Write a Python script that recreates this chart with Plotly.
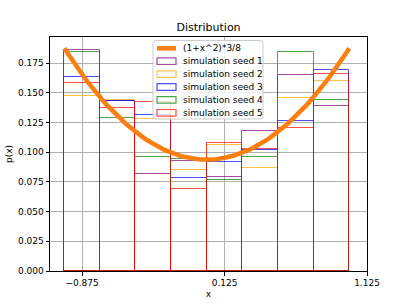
import numpy as np
import plotly.graph_objects as go

# bin edges / centers (8 bins from -1 to 1)
bin_centers = [-0.875, -0.625, -0.375, -0.125, 0.125, 0.375, 0.625, 0.875]
bin_width = 0.25

seed1 = [0.186, 0.143, 0.082, 0.093, 0.079, 0.118, 0.165, 0.139]
seed2 = [0.147, 0.144, 0.128, 0.085, 0.106, 0.087, 0.146, 0.160]
seed3 = [0.163, 0.143, 0.131, 0.078, 0.092, 0.102, 0.126, 0.169]
seed4 = [0.184, 0.129, 0.096, 0.094, 0.077, 0.096, 0.184, 0.144]
seed5 = [0.158, 0.137, 0.142, 0.069, 0.108, 0.103, 0.120, 0.166]

series_names = ["simulation seed 1", "simulation seed 2", "simulation seed 3",
                "simulation seed 4", "simulation seed 5"]
series_vals = [seed1, seed2, seed3, seed4, seed5]
series_colors = ["rgba(128,0,128,0.7)", "rgba(255,165,0,0.7)", "rgba(0,0,255,0.7)",
                 "rgba(0,128,0,0.7)", "rgba(255,0,0,0.7)"]

curve_name = "(1+x^2)*3/8"
curve_color = "#ff7f0e"
# theoretical curve (1+x^2)*3/8 scaled by bin width
curve_x = np.linspace(-1, 1, 101)
curve_y = (1 + curve_x**2) * 3 / 8 * bin_width

xticks = [-0.875, 0.125, 1.125]
xticktext = ["\u22120.875", "0.125", "1.125"]
yticks = [0, 0.025, 0.05, 0.075, 0.1, 0.125, 0.15, 0.175]

W, H = 407, 305
ML, MR, MT, MB = 50, 40, 37, 34
PW, PH = W - ML - MR, H - MT - MB

def px(x):
    return (x - ML) / PW

def py(y):
    return (H - MB - y) / PH

fig = go.Figure()
for name, vals, col in zip(series_names, series_vals, series_colors):
    fig.add_trace(go.Bar(
        x=bin_centers, y=vals, width=bin_width, name=name,
        marker=dict(color="rgba(0,0,0,0)", line=dict(color=col, width=1)),
    ))
fig.add_trace(go.Scatter(
    x=curve_x, y=curve_y, mode="lines", name=curve_name,
    line=dict(color=curve_color, width=4.5),
))

# manual legend (matplotlib-like compact layout)
shapes = []
annotations = []
bx0, bx1, by0, by1, r = 153, 263, 40.5, 119, 3
path = (f"M {px(bx0+r)},{py(by0)} L {px(bx1-r)},{py(by0)} "
        f"Q {px(bx1)},{py(by0)} {px(bx1)},{py(by0+r)} "
        f"L {px(bx1)},{py(by1-r)} Q {px(bx1)},{py(by1)} {px(bx1-r)},{py(by1)} "
        f"L {px(bx0+r)},{py(by1)} Q {px(bx0)},{py(by1)} {px(bx0)},{py(by1-r)} "
        f"L {px(bx0)},{py(by0+r)} Q {px(bx0)},{py(by0)} {px(bx0+r)},{py(by0)} Z")
shapes.append(dict(type="path", xref="paper", yref="paper", path=path,
                   fillcolor="rgba(255,255,255,0.8)", line=dict(color="#cccccc", width=1),
                   layer="above"))
legend_labels = [curve_name] + series_names
legend_y0, legend_dy = 48.3, 12.9
for i, lab in enumerate(legend_labels):
    yc = legend_y0 + i * legend_dy
    if i == 0:
        shapes.append(dict(type="line", xref="paper", yref="paper",
                           x0=px(157), x1=px(176), y0=py(yc), y1=py(yc),
                           line=dict(color=curve_color, width=4.5), layer="above"))
    else:
        shapes.append(dict(type="rect", xref="paper", yref="paper",
                           x0=px(157), x1=px(176), y0=py(yc - 3.3), y1=py(yc + 3.3),
                           line=dict(color=series_colors[i - 1], width=1.2),
                           fillcolor="rgba(0,0,0,0)", layer="above"))
    annotations.append(dict(text=lab, xref="paper", yref="paper", x=px(181), y=py(yc),
                            xanchor="left", yanchor="middle", showarrow=False,
                            font=dict(size=9, color="black")))

font = "DejaVu Sans, sans-serif"
fig.update_layout(
    width=W, height=H,
    margin=dict(l=ML, r=MR, t=MT, b=MB),
    paper_bgcolor="white", plot_bgcolor="white",
    barmode="overlay", bargap=0,
    font=dict(family=font, size=9, color="black"),
    title=dict(text="Distribution", x=0.5, xref="paper", y=1, yref="paper",
               yanchor="bottom", pad=dict(b=6), font=dict(size=11)),
    showlegend=False,
    shapes=shapes, annotations=annotations,
    xaxis=dict(range=[-1.1, 1.125], tickvals=xticks, ticktext=xticktext,
               showgrid=True, gridcolor="#b0b0b0", gridwidth=0.8,
               showline=True, linecolor="black", linewidth=1, mirror=True,
               ticks="outside", ticklen=3.5, tickcolor="black", zeroline=False,
               automargin=False,
               title=dict(text="x", standoff=3, font=dict(size=9))),
    yaxis=dict(range=[0, 0.197], tickvals=yticks, tickformat=".3f",
               showgrid=True, gridcolor="#b0b0b0", gridwidth=0.8,
               showline=True, linecolor="black", linewidth=1, mirror=True,
               ticks="outside", ticklen=3.5, tickcolor="black", zeroline=False,
               automargin=False,
               title=dict(text="p(x)", standoff=3, font=dict(size=9))),
)
fig.write_html("out.html", config={"displayModeBar": False},
               post_script="document.body.style.margin='0';document.body.style.overflow='hidden';")
